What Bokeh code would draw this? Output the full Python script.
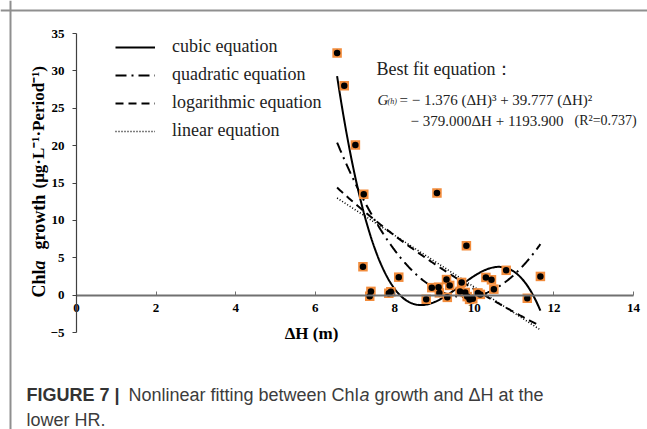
import numpy as np
from bokeh.plotting import figure
from bokeh.models import (Range1d, LinearAxis, FixedTicker, Label, Legend,
                          LegendItem, Span, ColumnDataSource)
from bokeh.embed import file_html
from bokeh.resources import INLINE

# ---------------- data ----------------
dh = [6.55, 6.73, 7.01, 7.22, 9.06, 7.20, 7.40, 7.37, 7.85, 7.90, 8.10,
      8.79, 8.93, 9.10, 9.12, 9.30, 9.38, 9.32, 9.80, 9.68, 9.64, 9.77,
      9.82, 9.88, 9.96, 10.09, 10.15, 10.29, 10.43, 10.49, 10.80, 11.33, 11.66]
chla = [32.4, 28.0, 20.1, 13.5, 13.65, 3.8, 0.5, -0.15, 0.25, 0.45, 2.4,
        -0.55, 1.0, 1.06, 0.3, 2.08, 1.3, -0.3, 6.6, 1.7, 0.5, 0.35,
        -0.2, -0.57, -0.5, 0.3, 0.1, 2.37, 2.05, 0.8, 3.32, -0.42, 2.5]
x_ticks = [0, 2, 4, 6, 8, 10, 12, 14]
y_ticks = [-5, 0, 5, 10, 15, 20, 25, 30, 35]
legend_labels = ["cubic equation", "quadratic equation",
                 "logarithmic equation", "linear equation"]

# ---------------- fitted curves (from the data) ----------------
xs = np.linspace(min(dh), max(dh), 200)
fit_cubic = np.polyval(np.polyfit(dh, chla, 3), xs)
fit_quad = np.polyval(np.polyfit(dh, chla, 2), xs)
fit_log = np.polyval(np.polyfit(np.log(dh), chla, 1), np.log(xs))
fit_lin = np.polyval(np.polyfit(dh, chla, 1), xs)

W, H = 647, 429
# pixel positions of the axis extents (x 0..14, y -5..35)
FL, FR, FT, FB = 76, 633, 33, 332
X0, X1, Y0, Y1 = 0, 14, -5, 35


def px(sx):
    return X0 + (sx - FL) / (FR - FL) * (X1 - X0)


def py(sy):
    return Y1 - (sy - FT) / (FB - FT) * (Y1 - Y0)


p = figure(width=W, height=H,
           x_range=Range1d(px(0), px(W)), y_range=Range1d(py(H), py(0)),
           output_backend="svg", toolbar_location=None,
           x_axis_type=None, y_axis_type=None,
           min_border_left=0, min_border_right=0,
           min_border_top=0, min_border_bottom=0)
p.min_border = 0
p.outline_line_color = None
p.background_fill_color = "white"
p.border_fill_color = "white"

SERIF = "Liberation Serif"

# page frame (top and left rule)
p.add_layout(Span(location=py(10), dimension="width",
                  line_color="#8f8f8f", line_width=2))
p.add_layout(Span(location=px(10), dimension="height",
                  line_color="#8f8f8f", line_width=2))

xax = LinearAxis(fixed_location=0, bounds=(X0, X1),
                 ticker=FixedTicker(ticks=x_ticks, minor_ticks=[]))
xax.axis_line_color = "#707070"
xax.axis_line_width = 2
xax.major_tick_in = 4
xax.major_tick_out = 0
xax.major_tick_line_color = "#707070"
xax.minor_tick_line_color = None
xax.major_label_text_font = SERIF
xax.major_label_text_font_style = "bold"
xax.major_label_text_font_size = "13px"
xax.major_label_text_color = "black"
xax.major_label_standoff = 9
p.add_layout(xax, "below")

yax = LinearAxis(fixed_location=0, bounds=(Y0, Y1),
                 ticker=FixedTicker(ticks=y_ticks, minor_ticks=[]))
yax.axis_line_color = "#404040"
yax.axis_line_width = 1.2
yax.major_tick_in = 0
yax.major_tick_out = 4
yax.major_tick_line_color = "#404040"
yax.minor_tick_line_color = None
yax.major_label_text_font = SERIF
yax.major_label_text_font_style = "bold"
yax.major_label_text_font_size = "13px"
yax.major_label_text_color = "black"
yax.major_label_standoff = 8
p.add_layout(yax, "left")

r_cub = p.line(xs, fit_cubic, line_color="black", line_width=2)
r_quad = p.line(xs, fit_quad, line_color="black", line_width=2, line_dash="11 5 2 5")
r_log = p.line(xs, fit_log, line_color="black", line_width=2, line_dash="8 5")
r_lin = p.line(xs, fit_lin, line_color="black", line_width=1.6, line_dash="1 2")

src = ColumnDataSource(dict(x=dh, y=chla))
p.scatter("x", "y", source=src, marker="square", size=9.5,
          fill_color="#F28C3C", line_color=None)
p.scatter("x", "y", source=src, marker="circle", size=6.5,
          fill_color="black", line_color=None)

leg = Legend(items=[LegendItem(label=l, renderers=[r]) for l, r in
                    zip(legend_labels, [r_cub, r_quad, r_log, r_lin])],
             location=(115, 288))
leg.glyph_width = 40
leg.glyph_height = 20
leg.label_height = 20
leg.spacing = 7
leg.padding = 0
leg.margin = 0
leg.label_standoff = 17
leg.border_line_color = None
leg.background_fill_alpha = 0
leg.label_text_font = SERIF
leg.label_text_font_size = "18px"
leg.label_text_color = "#222222"
p.add_layout(leg, "center")


def lab(text, sx, sy, size, font=SERIF, style="normal", color="#222222",
        align="left", baseline="alphabetic", angle=0.0):
    p.add_layout(Label(x=px(sx), y=py(sy), text=text, text_font=font,
                       text_font_size=size, text_font_style=style,
                       text_color=color, text_align=align,
                       text_baseline=baseline, angle=angle))


# equation block
lab("Best fit equation\uff1a", 376, 68, "18px")
lab("G", 377, 99, "15px", style="italic")
lab("(h)", 387, 101, "8px", style="italic")
lab("= \u2212 1.376 (\u0394H)\u00b3 + 39.777 (\u0394H)\u00b2", 399, 99, "15px")
lab("\u2212 379.000\u0394H + 1193.900", 410, 120, "15px")
lab("(R\u00b2=0.737)", 574, 120, "14px")

# axis titles
lab("\u0394H (m)", 311, 333, "17px", style="bold", color="black",
    align="center", baseline="middle")
ang = np.pi / 2
lab("Chl", 38, 297, "18px", style="bold", color="black", baseline="middle", angle=ang)
lab("a", 38, 297 - 28, "18px", style="bold italic", color="black",
    baseline="middle", angle=ang)
lab("growth", 38, 249, "18px", style="bold", color="black",
    baseline="middle", angle=ang)
lab("(\u03bcg\u00b7L\u207b\u00b9\u00b7Period\u207b\u00b9)", 38, 188,
    "17px", style="bold", color="black", baseline="middle", angle=ang)

# caption
SANS = "Liberation Sans"
lab("FIGURE 7 |", 26, 394, "18px", font=SANS, style="bold", color="#333333")
lab("Nonlinear fitting between Chl", 128, 394, "18px", font=SANS, color="#3c3c3c")
lab("a", 359, 394, "18px", font=SANS, style="italic", color="#3c3c3c")
lab("growth and \u0394H at the", 374, 394, "18px", font=SANS, color="#3c3c3c")
lab("lower HR.", 26, 419, "18px", font=SANS, color="#3c3c3c")

open("out.html", "w").write(file_html(p, INLINE))
